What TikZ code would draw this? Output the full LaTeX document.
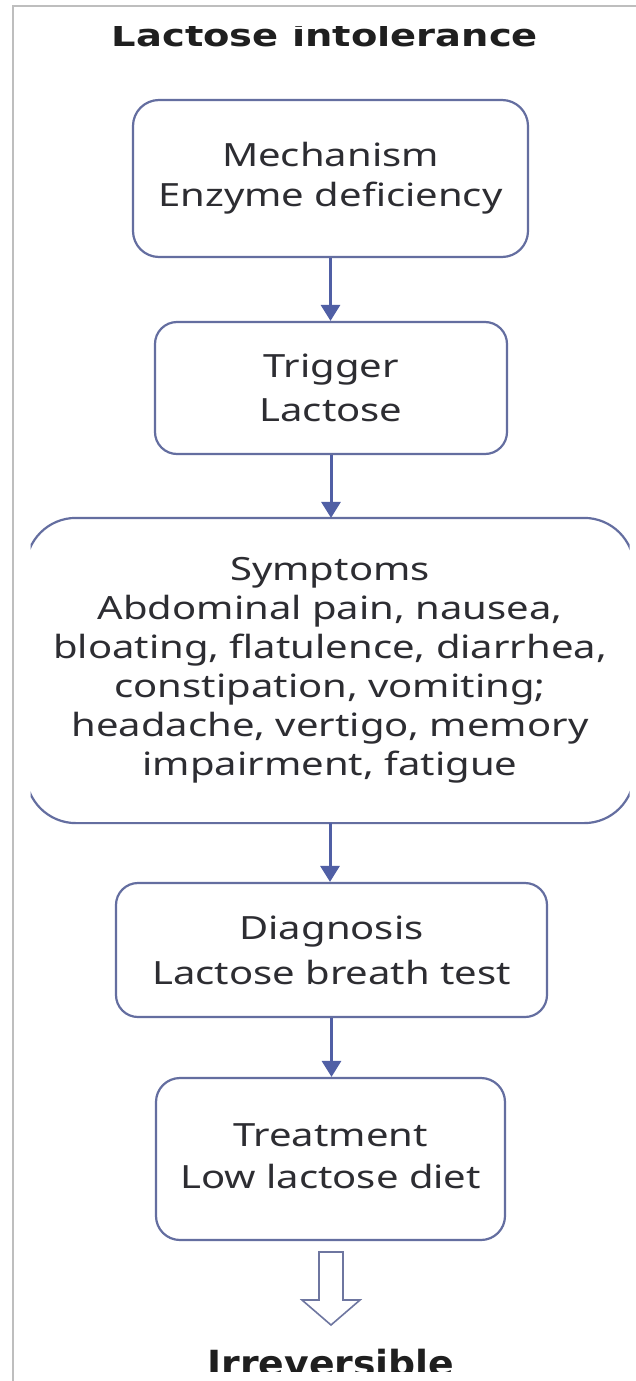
\documentclass[tikz,border=0pt]{standalone}
\usepackage{fontspec}
\setmainfont{Noto Sans}
\newfontfamily\headfam{DejaVu Sans}
\usepackage{graphicx}
\usetikzlibrary{arrows.meta}
\definecolor{boxline}{RGB}{100,110,160}
\definecolor{arrowc}{RGB}{80,95,165}
\definecolor{framec}{RGB}{190,190,190}
\definecolor{txt}{RGB}{45,45,50}
\definecolor{hollowc}{RGB}{110,118,160}
\newcommand{\hs}[1]{\scalebox{1.25}[1]{#1}}
\begin{document}
\begin{tikzpicture}[x=1pt,y=-1pt,
  box/.style={draw=boxline, line width=2.2pt, fill=white, inner sep=0pt, text=txt, align=center},
  bodyfont/.style={font=\fontsize{32}{#1}\selectfont},
  conn/.style={draw=arrowc, line width=3pt, -{Triangle[width=19pt,length=16pt]}},
  hollow/.style={draw=hollowc, line width=1.6pt, fill=white, line join=miter},
  headfont/.style={font=\headfam\bfseries\fontsize{#1}{#1}\selectfont, text=black!88, inner sep=0pt}
]
\useasboundingbox (0,0) rectangle (636,1381);
\fill[white] (0,0) rectangle (636,1381);
\draw[framec, line width=2pt] (13,1381) -- (13,6) -- (636,6);

% title, clipped at top
\begin{scope}
  \clip (0,27) rectangle (636,1381);
  \node[headfont=31, anchor=base] (title) at (325,47) {\scalebox{1.24}[1]{Lactose intolerance}};
\end{scope}

\node[box, bodyfont=40, rounded corners=26pt, minimum width=395pt, minimum height=157pt] (mech) at (330.5,178.5)
  {\hs{Mechanism}\\\hs{Enzyme deficiency}};
\node[box, bodyfont=44, rounded corners=22pt, minimum width=352pt, minimum height=132pt] (trig) at (331,388)
  {\hs{Trigger}\\\hs{Lactose}};
\node[box, bodyfont=39, draw=none, minimum width=606pt, minimum height=303pt] (sym) at (330,670.5)
  {\hs{Symptoms}\\\hs{Abdominal pain, nausea,}\\\hs{bloating, flatulence, diarrhea,}\\\hs{constipation, vomiting;}\\\hs{headache, vertigo, memory}\\\hs{impairment, fatigue}};
\begin{scope}
  \clip (30.5,0) rectangle (629.5,1381);
  \draw[boxline, line width=2.2pt, rounded corners=50pt] (sym.north west) rectangle (sym.south east);
\end{scope}
\node[box, bodyfont=45, rounded corners=22pt, minimum width=431pt, minimum height=134pt] (diag) at (331.5,950)
  {\hs{Diagnosis}\\\hs{Lactose breath test}};
\node[box, bodyfont=42, rounded corners=24pt, minimum width=349pt, minimum height=162pt] (treat) at (330.5,1159)
  {\raisebox{7pt}{\begin{tabular}{@{}c@{}}\hs{Treatment}\\\hs{Low lactose diet}\end{tabular}}};

\draw[conn] (mech.south) -- (mech.south |- trig.north);
\draw[conn] (trig.south) -- (trig.south |- sym.north);
\draw[conn] (sym.south) -- (sym.south |- diag.north);
\draw[conn] (diag.south) -- (diag.south |- treat.north);

% hollow arrow
\coordinate (ha) at (331,1252);
\draw[hollow] (ha) ++(-12,0) -- ++(0,48) -- ++(-17,0) -- (331,1325) -- (360,1300) -- ++(-17,0) -- ++(0,-48) -- cycle;

% bottom label, clipped at bottom
\begin{scope}
  \clip (0,0) rectangle (636,1371);
  \node[headfont=36, anchor=base] (irr) at (331,1376) {\scalebox{1.05}[1]{Irreversible}};
\end{scope}
\end{tikzpicture}
\end{document}
